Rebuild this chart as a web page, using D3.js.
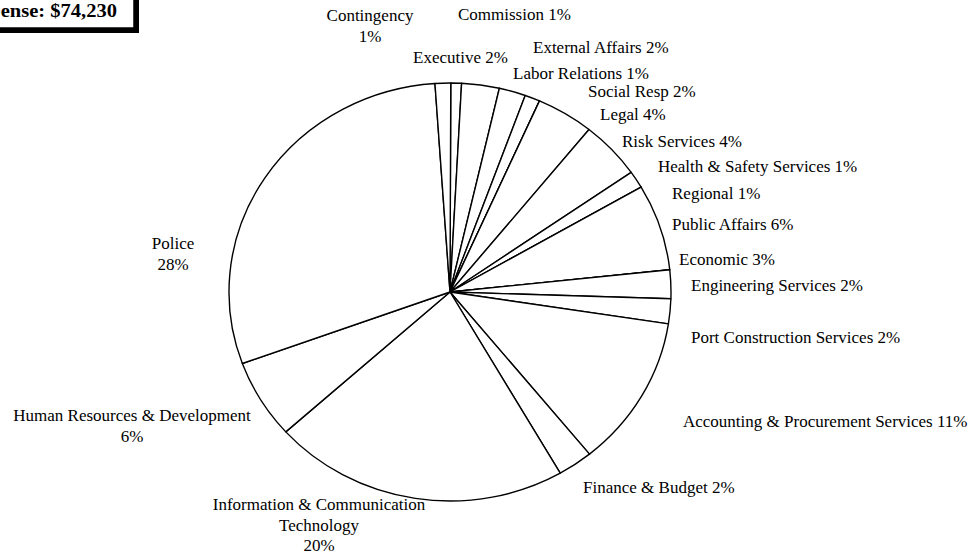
<!DOCTYPE html>
<html lang="en">
<head>
  <meta charset="UTF-8">
  <title>Expense Pie</title>
  <script src="https://d3js.org/d3.v7.min.js"></script>
  <style>
    body { margin: 0; background: white; }
    svg { display: block; }
    text { font-family: "Liberation Serif", "Times New Roman", Tinos, "DejaVu Serif", serif; font-size: 17px; fill: black; }
  </style>
</head>
<body>
<div id="chart"></div>
<script>
// categories in the order they are drawn, clockwise from 12 o'clock
var categories = ["Commission", "Executive", "External Affairs", "Labor Relations", "Social Resp",
  "Legal", "Risk Services", "Health & Safety Services", "Regional", "Public Affairs", "Economic",
  "Engineering Services", "Port Construction Services", "Accounting & Procurement Services",
  "Finance & Budget", "Information & Communication Technology", "Human Resources & Development",
  "Police", "Contingency"];
// share of the total (%)
var shares = [0.78, 2.75, 1.94, 1.11, 0, 4.19, 4.47, 1.33, 0, 6.67, 0, 2.22, 1.92, 11.69,
  2.56, 21.64, 6.11, 29.47, 1.14];
// percentages as printed on the labels
var pctLabels = ["1%", "2%", "2%", "1%", "2%", "4%", "4%", "1%", "1%", "6%", "3%", "2%", "2%",
  "11%", "2%", "20%", "6%", "28%", "1%"];
var totalLabel = "Total Expense: $74,230";

// label layout: anchor, x, first baseline, separator or line split
var labelLayout = [
  {sep: "  ", anchor: "start", x: 458, y: 20},
  {sep: "  ", anchor: "start", x: 413, y: 63},
  {sep: " ", anchor: "start", x: 533, y: 53},
  {sep: " ", anchor: "start", x: 513, y: 79},
  {sep: " ", anchor: "start", x: 588, y: 97},
  {sep: "  ", anchor: "start", x: 600, y: 120},
  {sep: " ", anchor: "start", x: 622, y: 147},
  {sep: " ", anchor: "start", x: 658, y: 172},
  {sep: " ", anchor: "start", x: 672, y: 199},
  {sep: " ", anchor: "start", x: 672, y: 230},
  {sep: " ", anchor: "start", x: 679, y: 265},
  {sep: " ", anchor: "start", x: 691, y: 291},
  {sep: " ", anchor: "start", x: 691, y: 343},
  {sep: " ", anchor: "start", x: 683, y: 427},
  {sep: " ", anchor: "start", x: 583, y: 493},
  {split: ["Information & Communication", "Technology"], anchor: "middle", x: 319, y: 510},
  {split: true, anchor: "middle", x: 132, y: 421},
  {split: true, anchor: "middle", x: 173, y: 249},
  {split: true, anchor: "middle", x: 370, y: 21}
];

function labelLines(i) {
  var L = labelLayout[i];
  if (Array.isArray(L.split)) return L.split.concat([pctLabels[i]]);
  if (L.split) return [categories[i], pctLabels[i]];
  return [categories[i] + L.sep + pctLabels[i]];
}

var width = 980, height = 558;
var cx = 450, cy = 292, rx = 221, ry = 209;

var svg = d3.select("#chart").append("svg")
  .attr("width", width)
  .attr("height", height);

// total box with shadow (cut at the left edge like the original)
svg.append("rect")
  .attr("x", -300).attr("y", -10)
  .attr("width", 439).attr("height", 43)
  .attr("fill", "black");
svg.append("rect")
  .attr("x", -300).attr("y", -10)
  .attr("width", 434).attr("height", 38)
  .attr("fill", "white")
  .attr("stroke", "black")
  .attr("stroke-width", 1.5);
svg.append("text")
  .attr("transform", "translate(117,17) scale(1.14,1)")
  .attr("text-anchor", "end")
  .style("font-weight", "bold")
  .style("font-size", "18px")
  .text(totalLabel);

var pie = d3.pie()
  .sort(null)
  .value(function(d){ return d; })
  .startAngle(0.2 * Math.PI / 180)
  .endAngle(2 * Math.PI + 0.2 * Math.PI / 180);

var arc = d3.arc().innerRadius(0).outerRadius(rx);

// the pie is slightly squashed vertically in the original
var g = svg.append("g")
  .attr("transform", "translate(" + cx + "," + cy + ") scale(1," + (ry / rx) + ")");

g.selectAll("path")
  .data(pie(shares))
  .enter()
  .append("path")
  .attr("d", arc)
  .attr("fill", "white")
  .attr("stroke", "black")
  .attr("stroke-width", 1.4)
  .attr("stroke-linejoin", "round")
  .attr("vector-effect", "non-scaling-stroke");

// labels
var labels = svg.selectAll("text.lbl")
  .data(labelLayout)
  .enter()
  .append("text")
  .attr("class", "lbl")
  .attr("text-anchor", function(d){ return d.anchor; })
  .attr("x", function(d){ return d.x; })
  .attr("y", function(d){ return d.y; });

labels.selectAll("tspan")
  .data(function(d, i){ return labelLines(i).map(function(t){ return {t: t, x: d.x}; }); })
  .enter()
  .append("tspan")
  .attr("x", function(d){ return d.x; })
  .attr("dy", function(d, i){ return i === 0 ? 0 : 20.5; })
  .text(function(d){ return d.t; });
</script>
</body>
</html>
